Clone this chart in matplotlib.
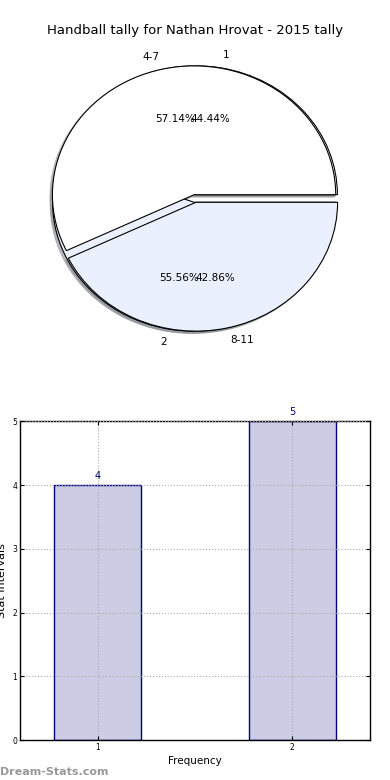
import matplotlib.pyplot as plt

title = 'Handball tally for Nathan Hrovat - 2015 tally'

# pie 1: tally counts
pie1_labels = ['1', '2']
pie1_values = [4, 5]
# pie 2: stat intervals
pie2_labels = ['4-7', '8-11']
pie2_values = [4, 3]

bar_labels = ['1', '2']
bar_values = [4, 5]

pie_colors = ['#ffffff', '#eaf0fd']
shadow = dict(ox=-0.012, oy=-0.012, shade=0.4, alpha=0.6)

fig = plt.figure(figsize=(3.9, 7.8), dpi=100)

ax1 = fig.add_axes([0.046, 0.539, 0.908, 0.413])
for vals, labs in [(pie1_values, pie1_labels), (pie2_values, pie2_labels)]:
    ax1.pie(vals, labels=labs, colors=pie_colors, autopct='%.2f%%',
            explode=[0.03, 0.03], shadow=shadow,
            wedgeprops=dict(edgecolor='black', linewidth=0.8),
            textprops=dict(fontsize=7.5))
ax1.set_xlim(-1.25, 1.25)
ax1.set_ylim(-1.25, 1.25)
ax1.set_aspect('auto')
fig.text(0.5, 0.961, title, ha='center', va='center', fontsize=9.5)

ax2 = fig.add_axes([0.051, 0.051, 0.898, 0.409])
x = [1, 2]
ax2.bar(x, bar_values, width=0.45, color='#ccccE5', edgecolor='#000080',
        linewidth=1, zorder=2)
for xi, v in zip(x, bar_values):
    ax2.text(xi, v + 0.07, str(v), ha='center', va='bottom', color='#000080',
             fontsize=7)
ax2.set_xlim(0.6, 2.4)
ax2.set_ylim(0, 5)
ax2.set_xticks(x)
ax2.set_xticklabels(bar_labels)
ax2.set_yticks(range(6))
ax2.tick_params(labelsize=5.5, direction='in', top=True, right=True,
                length=3, pad=2)
ax2.grid(True, linestyle=':', color='#aaaaaa', linewidth=0.8, zorder=3)
ax2.set_axisbelow(False)
ax2.set_xlabel('Frequency', fontsize=7.5, labelpad=3)
ax2.set_ylabel('Stat Intervals', fontsize=8, labelpad=4)
for s in ax2.spines.values():
    s.set_linewidth(1)

fig.text(0.0, 0.004, 'Dream-Stats.com', fontsize=8, color='#999999',
         fontweight='bold', ha='left', va='bottom')

fig.savefig('out.png', dpi=100)
